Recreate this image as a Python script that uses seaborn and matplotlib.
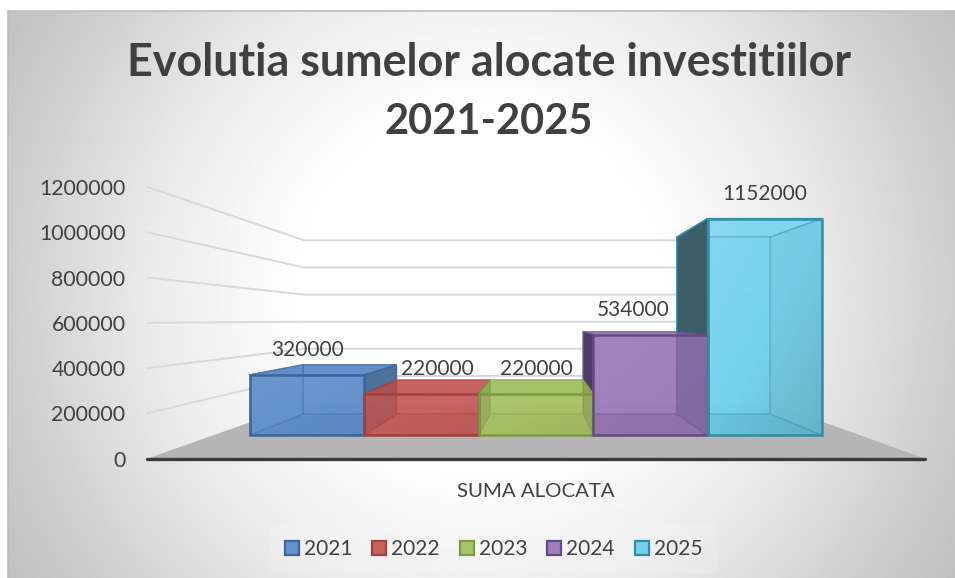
import numpy as np
import pandas as pd
import seaborn as sns
import matplotlib.pyplot as plt
from matplotlib.colors import to_rgba
from matplotlib.patches import Patch

# date
years = ["2021", "2022", "2023", "2024", "2025"]
values = [320000, 220000, 220000, 534000, 1152000]
y_ticks = [0, 200000, 400000, 600000, 800000, 1000000, 1200000]
title_lines = ["Evolutia sumelor alocate investitiilor", "2021-2025"]
x_label = "SUMA ALOCATA"

# culori
front_colors = ["#6491cb", "#c8625f", "#a7c569", "#9d80b9", "#73d2ee"]
back_colors = ["#6592cc", "#c66361", "#a6c468", "#9c7fb8", "#73d2ee"]
floor_colors = ["#5f8bc4", "#be5d5b", "#a1bd63", "#9071aa", "#66bfd8"]
edge_colors = ["#3c659c", "#a33f3c", "#7c9a3f", "#654a85", "#318da8"]
left_colors = ["#6290c9", "#ab4f53", "#8fa85a", "#4a3a63", "#3b5a65"]
right_colors = ["#4d7099", "#c56462", "#8ea858", "#7d67a0", "#72c8e0"]
top_colors = ["#50709c", "#9b504e", "#809456", "#5a467d", "#80d6ee"]
shine = [0.05, 0.05, 0.05, 0.05, 0.15]

W, H = 955, 578
sns.set_style("white")
plt.rcParams["font.family"] = ["Lato", "DejaVu Sans"]

fig = plt.figure(figsize=(W / 100, H / 100), dpi=100, facecolor="white")

# fundal cu gradient radial
bg = fig.add_axes([8 / W, 0, 1 - 8 / W, 1 - 11 / H], zorder=0)
yy, xx = np.mgrid[11:578:300j, 8:955:500j]
dist = np.hypot(xx - 480, yy - 290)
shade = np.interp(dist, [0, 180, 330, 470, 560], [1, 1, 0.92, 0.81, 0.75])
bg.imshow(shade, cmap="gray", vmin=0, vmax=1, aspect="auto", interpolation="bilinear")
bg.set_xticks([])
bg.set_yticks([])
for name, sp in bg.spines.items():
    sp.set_visible(name in ("left", "top"))
    sp.set_color("#bdbdbd")
    sp.set_linewidth(1.2)

# axa principala: planul din fata al barelor
left, right, bottom, top = 145, 925, 459, 187
ax = fig.add_axes([left / W, 1 - bottom / H, (right - left) / W, (bottom - top) / H], zorder=1)
ax.patch.set_alpha(0)

px_cat = 114.4
px_val = 37.6 / 200000
x0, y0 = 250, 435
xv, yv = 2.03, 611700  # punctul de fuga
s_floor, s_front, s_back, s_wall = 1.205, 1.0, 0.817, 0.722


def proj(x, v, s):
    return xv + (x - xv) * s, yv + (v - yv) * s


def face(pts, color, alpha=1.0, edge=None, edge_alpha=0.35, z=2):
    xs, ys = zip(*pts)
    ec = to_rgba(edge, edge_alpha) if edge else "none"
    ax.fill(xs, ys, facecolor=to_rgba(color, alpha), edgecolor=ec, lw=1.2, zorder=z)


wall_l, wall_r = -0.815, 4.827

# podea si linii de grila
face([proj(wall_l, 0, s_floor), proj(wall_r, 0, s_floor), proj(wall_r, 0, s_wall), proj(wall_l, 0, s_wall)], "#b5b5b5", z=1)
for t in y_ticks[1:]:
    pts = [proj(wall_l, t, s_floor), proj(wall_l, t, s_wall), proj(wall_r, t, s_wall)]
    ax.plot(*zip(*pts), color="#d9d9d9", lw=1.4, zorder=1.5, solid_joinstyle="miter", clip_on=False)
ax.plot(*zip(proj(wall_l, 0, s_floor), proj(wall_r, 0, s_floor)), color="#3a3a3a", lw=2.4, zorder=6,
        solid_capstyle="round", clip_on=False)

# fetele din spate, de la margine spre centru
order = sorted(range(len(values)), key=lambda k: -abs(k - 2))
for i in order:
    v = values[i]
    a, b = i - 0.5, i + 0.5
    z = 2 + 0.1 * (2 - abs(i - 2))
    edge = edge_colors[i]
    face([proj(a, v, s_front), proj(b, v, s_front), proj(b, v, s_back), proj(a, v, s_back)], top_colors[i], 1.0, edge, 0.8, z)
    face([proj(a, 0, s_back), proj(b, 0, s_back), proj(b, v, s_back), proj(a, v, s_back)], back_colors[i], 0.97, edge, 0.35, z)
    face([proj(a, 0, s_front), proj(b, 0, s_front), proj(b, 0, s_back), proj(a, 0, s_back)], floor_colors[i], 1.0, edge, 0.35, z)
    face([proj(a, 0, s_front), proj(a, v, s_front), proj(a, v, s_back), proj(a, 0, s_back)], left_colors[i], 0.97, edge, 0.8 if i > 2 else 0.35, z)
    face([proj(b, 0, s_front), proj(b, v, s_front), proj(b, v, s_back), proj(b, 0, s_back)], right_colors[i], 0.97, edge, 0.8 if i < 2 else 0.35, z)

# fata barelor
n_before = len(ax.patches)
df = pd.DataFrame({"an": years, "suma": values})
sns.barplot(data=df, x="an", y="suma", hue="an", palette=front_colors, width=1.0, dodge=False,
            legend=False, ax=ax, zorder=5)
bars = ax.patches[n_before:]
for i, bar in enumerate(bars):
    bar.set_alpha(None)
    bar.set_facecolor(to_rgba(front_colors[i], 0.25))
    bar.set_edgecolor(edge_colors[i])
    bar.set_linewidth(1.8)
    # lumina din stanga sus, umbra in dreapta jos
    gy, gx = np.mgrid[1:0:40j, 0:1:40j]
    t = (gx + (1 - gy)) / 2
    g = np.zeros((40, 40, 4))
    g[..., :3] = (t < 0.5)[..., None].astype(float)
    g[..., 3] = shine[i] * np.abs(1 - 2 * t)
    im = ax.imshow(g, extent=(i - 0.5, i + 0.5, 0, values[i]), aspect="auto", zorder=4.9, interpolation="nearest")
    im.set_clip_path(bar)

ax.set_xlim(-0.5 + (left - x0) / px_cat, -0.5 + (right - x0) / px_cat)
ax.set_ylim((y0 - bottom) / px_val, (y0 - top) / px_val)

# etichete
label_dx = [0, 16, 0, -17, 0]
for i, v in enumerate(values):
    ax.annotate(str(v), (i, v), xytext=(label_dx[i] * 0.72, 25 * 0.72), textcoords="offset points",
                ha="center", va="center", fontsize=15, color="#404040", zorder=7)

ax.set_yticks([proj(0, t, s_floor)[1] for t in y_ticks])
ax.set_yticklabels([str(t) for t in y_ticks], fontsize=15.3, color="#404040")
ax.set_xticks([2])
ax.set_xticklabels([x_label], fontsize=14.7, color="#404040")
ax.tick_params(axis="y", length=0, pad=14)
ax.tick_params(axis="x", length=0, pad=17)
ax.set_xlabel("")
ax.set_ylabel("")
sns.despine(ax=ax, left=True, bottom=True)

fig.text(489.5 / W, 1 - 63 / H, title_lines[0], ha="center", va="center", fontsize=32.3,
         fontweight="bold", color="#404040")
fig.text(488.5 / W, 1 - 122 / H, title_lines[1], ha="center", va="center", fontsize=30,
         fontweight="bold", color="#404040")

handles = [Patch(facecolor=c, edgecolor=e, lw=1.6, label=y) for c, e, y in zip(front_colors, edge_colors, years)]
fig.legend(handles=handles, ncol=5, loc="center", bbox_to_anchor=(493.5 / W, 1 - 549 / H), frameon=True,
           facecolor="white", framealpha=0.12, edgecolor="none", fancybox=False,
           fontsize=15, labelcolor="#404040", handlelength=0.67, handleheight=0.67, handletextpad=0.25,
           columnspacing=0.95, borderpad=0.7)

fig.savefig("out.png", dpi=100)
